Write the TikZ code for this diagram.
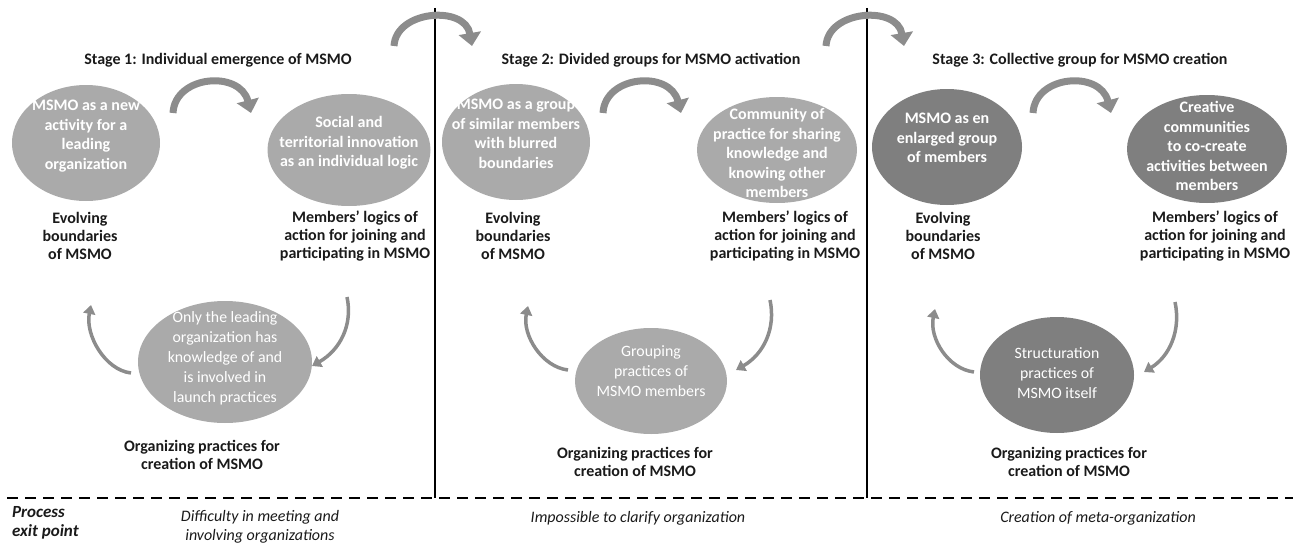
\documentclass[tikz,border=0pt]{standalone}
\usepackage{fontspec}
\setmainfont{Carlito}
\usetikzlibrary{arrows.meta,shapes.geometric}
\definecolor{lightell}{HTML}{AAAAAA}
\definecolor{darkell}{HTML}{7F7F7F}
\definecolor{arrowgray}{HTML}{8C8C8C}
\definecolor{txt}{HTML}{1A1A1A}
\begin{document}
\begin{tikzpicture}[x=1pt,y=-1pt,
  ellbox/.style={ellipse, fill=lightell, inner sep=0pt},
  darkbox/.style={ellbox, fill=darkell},
  elltext/.style={text=white, align=center, inner sep=0pt, font=\fontsize{16}{19.5}\selectfont\bfseries},
  elltextreg/.style={text=white, align=center, inner sep=0pt, font=\fontsize{15.8}{20}\selectfont},
  labeltext/.style={text=txt, align=center, inner sep=0pt, font=\fontsize{16}{18}\selectfont\bfseries},
  titletext/.style={text=txt, align=center, inner sep=0pt, font=\fontsize{16}{18}\selectfont\bfseries},
  exittext/.style={text=txt, align=center, inner sep=0pt, font=\fontsize{16}{19}\selectfont\itshape},
  bigarrow/.style={draw=arrowgray, line width=7pt, -{Triangle[width=22pt,length=13pt]}},
  smallarrow/.style={draw=arrowgray, line width=3.5pt, -{Triangle[width=12pt,length=9pt]}},
  stageline/.style={draw=black, line width=2pt},
  exitline/.style={draw=black, line width=2.2pt, dash pattern=on 11pt off 7pt}
]
\useasboundingbox (0,0) rectangle (1293,543);

% separators
\coordinate (v1t) at (435,8);
\coordinate (v1b) at (435,498);
\coordinate (v2t) at (867,8);
\coordinate (v2b) at (867,498);
\coordinate (hl) at (7,498);
\coordinate (hr) at (1293,498);
\draw[stageline] (v1t) -- (v1b);
\draw[stageline] (v2t) -- (v2b);
\draw[exitline] (hl) -- (hr);

% ---------------- Stage 1
\node[titletext] (t1) at (218,60) {Stage 1: Individual emergence of MSMO};
\node[ellbox, minimum width=148pt, minimum height=116pt] (e1a) at (86,143) {};
\node[elltext] (e1at) at (86,136) {MSMO as a new\\activity for a\\leading\\organization};
\node[ellbox, minimum width=163pt, minimum height=112pt] (e1b) at (349,150) {};
\node[elltext] (e1bt) at (349,143) {Social and\\territorial innovation\\as an individual logic};
\node[labeltext] (l1a) at (80,236) {Evolving\\boundaries\\of MSMO};
\node[labeltext] (l1b) at (355,236) {Members' logics of\\action for joining and\\participating in MSMO};
\node[ellbox, minimum width=174pt, minimum height=122pt] (e1c) at (225,362) {};
\node[elltextreg] (e1ct) at (225,358) {Only the leading\\organization has\\knowledge of and\\is involved in\\launch practices};
\node[labeltext] (l1c) at (202,455) {Organizing practices for\\creation of MSMO};

% ---------------- Stage 2
\node[titletext] (t2) at (651,60) {Stage 2: Divided groups for MSMO activation};
\node[ellbox, minimum width=148pt, minimum height=116pt] (e2a) at (516,142) {};
\node[elltext] (e2at) at (516,134) {MSMO as a group\\of similar members\\with blurred\\boundaries};
\node[ellbox, minimum width=160pt, minimum height=106pt] (e2b) at (777,150) {};
\node[elltext] (e2bt) at (777,153) {Community of\\practice for sharing\\knowledge and\\knowing other\\members};
\node[labeltext] (l2a) at (513,236) {Evolving\\boundaries\\of MSMO};
\node[labeltext] (l2b) at (785,236) {Members' logics of\\action for joining and\\participating in MSMO};
\node[ellbox, minimum width=152pt, minimum height=106pt] (e2c) at (651,381) {};
\node[elltextreg] (e2ct) at (651,371) {Grouping\\practices of\\MSMO members};
\node[labeltext] (l2c) at (635,462) {Organizing practices for\\creation of MSMO};

% ---------------- Stage 3
\node[titletext] (t3) at (1080,60) {Stage 3: Collective group for MSMO creation};
\node[darkbox, minimum width=150pt, minimum height=116pt] (e3a) at (947,147) {};
\node[elltext] (e3at) at (947,138) {MSMO as en\\enlarged group\\of members};
\node[darkbox, minimum width=160pt, minimum height=108pt] (e3b) at (1207,149) {};
\node[elltext] (e3bt) at (1207,146) {Creative\\communities\\to co-create\\activities between\\members};
\node[labeltext] (l3a) at (943,236) {Evolving\\boundaries\\of MSMO};
\node[labeltext] (l3b) at (1215,236) {Members' logics of\\action for joining and\\participating in MSMO};
\node[darkbox, minimum width=154pt, minimum height=116pt] (e3c) at (1057,375) {};
\node[elltextreg] (e3ct) at (1057,373) {Structuration\\practices of\\MSMO itself};
\node[labeltext] (l3c) at (1069,462) {Organizing practices for\\creation of MSMO};

% ---------------- exit points
\node[exittext, anchor=north west, align=left, font=\fontsize{17}{19.5}\selectfont\bfseries\itshape] (px) at (12,506) {Process\\exit point};
\node[exittext] (x1) at (260,527) {Difficulty in meeting and\\involving organizations};
\node[exittext] (x2) at (638,518) {Impossible to clarify organization};
\node[exittext] (x3) at (1098,518) {Creation of meta-organization};

% ---------------- arrow end points
% stage 1
\coordinate (a1s) at (173,113);  \coordinate (a1e) at (251,113);
\coordinate (b1s) at (347,297);  \coordinate (b1e) at (312,366);
\coordinate (c1s) at (131,373);  \coordinate (c1e) at (91,305);
% stage 2
\coordinate (a2s) at (603,113);  \coordinate (a2e) at (681,113);
\coordinate (b2s) at (770,300);  \coordinate (b2e) at (736,370);
\coordinate (c2s) at (568,370);  \coordinate (c2e) at (528,306);
% stage 3
\coordinate (a3s) at (1033,113); \coordinate (a3e) at (1111,113);
\coordinate (b3s) at (1175,302); \coordinate (b3e) at (1144,372);
\coordinate (c3s) at (974,372);  \coordinate (c3e) at (935,309);
% between stages
\coordinate (s12s) at (394,46);  \coordinate (s12e) at (472,46);
\coordinate (s23s) at (826,46);  \coordinate (s23e) at (904,46);

\draw[bigarrow] (a1s) .. controls (175,75) and (240,70) .. (a1e);
\draw[bigarrow] (a2s) .. controls (605,75) and (670,70) .. (a2e);
\draw[bigarrow] (a3s) .. controls (1035,75) and (1100,70) .. (a3e);
\draw[bigarrow] (s12s) .. controls (396,10) and (465,5) .. (s12e);
\draw[bigarrow] (s23s) .. controls (828,10) and (897,5) .. (s23e);

\draw[smallarrow] (b1s) .. controls (353,325) and (340,350) .. (b1e);
\draw[smallarrow] (b2s) .. controls (776,328) and (764,354) .. (b2e);
\draw[smallarrow] (b3s) .. controls (1181,330) and (1170,356) .. (b3e);
\draw[smallarrow] (c1s) .. controls (105,370) and (85,335) .. (c1e);
\draw[smallarrow] (c2s) .. controls (542,367) and (522,335) .. (c2e);
\draw[smallarrow] (c3s) .. controls (948,369) and (929,338) .. (c3e);
\end{tikzpicture}
\end{document}
